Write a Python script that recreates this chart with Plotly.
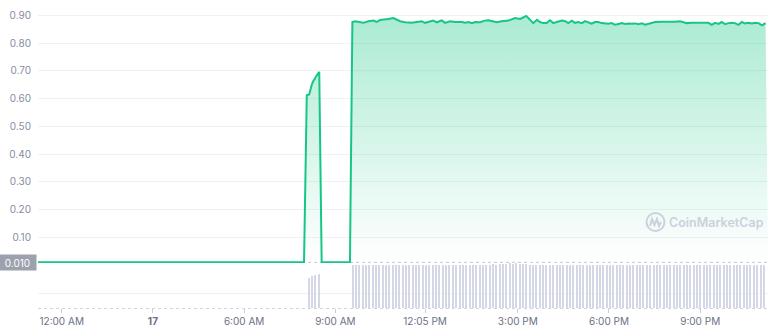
import plotly.graph_objects as go

# ---------------- data ----------------
# time in hours since the "12:00 AM" tick
price_hours = [-0.78, 7.97, 8.06, 8.14, 8.22, 8.26, 8.39, 8.47, 8.55, 9.48,
               9.56, 9.65, 9.92, 10.09, 10.25, 10.36, 10.47, 10.58, 10.74, 10.91,
               11.02, 11.13, 11.29, 11.51, 11.68, 11.84, 11.95, 12.12, 12.22, 12.34,
               12.5, 12.61, 12.77, 12.94, 13.16, 13.27, 13.38, 13.49, 13.6, 13.76,
               13.92, 14.03, 14.14, 14.31, 14.47, 14.69, 14.91, 15.08, 15.28, 15.41,
               15.51, 15.63, 15.73, 15.84, 15.95, 16.06, 16.17, 16.28, 16.45, 16.56,
               16.66, 16.78, 16.88, 16.99, 17.11, 17.21, 17.32, 17.43, 17.54, 17.65,
               17.76, 17.87, 17.98, 18.09, 18.2, 18.31, 18.42, 18.53, 18.64, 18.75,
               18.86, 18.97, 19.08, 19.19, 19.3, 19.41, 19.52, 19.74, 19.95, 20.17,
               20.34, 20.45, 20.56, 20.72, 20.94, 21.27, 21.38, 21.49, 21.6, 21.71,
               21.82, 21.93, 22.04, 22.14, 22.26, 22.37, 22.47, 22.58, 22.7, 22.81,
               22.92, 23.03, 23.15]
price_values = [0.010, 0.010, 0.612, 0.615, 0.648, 0.660, 0.684, 0.696, 0.010, 0.010,
                0.876, 0.879, 0.873, 0.879, 0.881, 0.876, 0.883, 0.884, 0.887, 0.890,
                0.884, 0.879, 0.875, 0.873, 0.876, 0.879, 0.873, 0.879, 0.881, 0.875,
                0.882, 0.873, 0.879, 0.876, 0.876, 0.873, 0.876, 0.872, 0.876, 0.875,
                0.881, 0.882, 0.879, 0.875, 0.879, 0.881, 0.890, 0.887, 0.898, 0.884,
                0.872, 0.884, 0.876, 0.872, 0.872, 0.882, 0.872, 0.876, 0.881, 0.879,
                0.872, 0.881, 0.873, 0.876, 0.872, 0.879, 0.873, 0.870, 0.876, 0.876,
                0.872, 0.871, 0.870, 0.872, 0.866, 0.869, 0.872, 0.869, 0.871, 0.870,
                0.871, 0.868, 0.871, 0.866, 0.870, 0.872, 0.876, 0.877, 0.876, 0.877,
                0.879, 0.875, 0.872, 0.873, 0.873, 0.873, 0.866, 0.873, 0.869, 0.876,
                0.868, 0.872, 0.873, 0.872, 0.866, 0.876, 0.871, 0.873, 0.871, 0.873,
                0.872, 0.864, 0.872]
open_price = 0.010

# volume (relative to panel height)
vol_spike_hours = [8.13, 8.23, 8.33, 8.47]
vol_spike = [0.67, 0.71, 0.74, 0.76]
vol_post_start = 9.57
vol_post_step = 0.11
vol_post = [0.95, 0.96, 0.96, 0.95, 0.96, 0.95, 0.96, 0.96, 0.95, 0.96,
            0.96, 0.95, 0.96, 0.95, 0.95, 0.96, 0.95, 0.96, 0.95, 0.95,
            0.95, 0.96, 0.95, 0.95, 0.96, 0.95, 0.95, 0.95, 0.96, 0.95,
            0.95, 0.96, 0.95, 0.95, 0.95, 0.96, 0.95, 0.95, 0.96, 0.96,
            0.96, 0.96, 0.97, 0.96, 0.97, 0.97, 0.98, 0.99, 0.98, 0.99,
            0.98, 0.97, 0.97, 0.96, 0.96, 0.96, 0.95, 0.96, 0.95, 0.95,
            0.96, 0.95, 0.95, 0.96, 0.95, 0.95, 0.95, 0.96, 0.95, 0.95,
            0.95, 0.95, 0.96, 0.95, 0.95, 0.95, 0.96, 0.95, 0.96, 0.95,
            0.95, 0.95, 0.95, 0.96, 0.95, 0.95, 0.95, 0.95, 0.96, 0.95,
            0.95, 0.95, 0.96, 0.95, 0.95, 0.95, 0.95, 0.96, 0.95, 0.95,
            0.95, 0.96, 0.95, 0.95, 0.95, 0.95, 0.95, 0.96, 0.95, 0.95,
            0.95, 0.95, 0.95, 0.96, 0.95, 0.95, 0.95, 0.95, 0.95, 0.95,
            0.95, 0.95, 0.95, 0.95]
vol_post_hours = [round(vol_post_start + vol_post_step * i, 3) for i in range(len(vol_post))]

x_tick_vals = [0, 3, 6, 9, 11.95, 15, 18, 21]
x_tick_text = ["12:00 AM", "<b>17</b>", "6:00 AM", "9:00 AM", "12:05 PM", "3:00 PM", "6:00 PM", "9:00 PM"]
y_tick_vals = [0.1, 0.2, 0.3, 0.4, 0.5, 0.6, 0.7, 0.8, 0.9]
y_tick_text = ["0.10", "0.20", "0.30", "0.40", "0.50", "0.60", "0.70", "0.80", "0.90"]

X_RANGE = [-0.78, 23.23]
GREEN = "#16c784"
GRID = "#eff1f4"
FONT = "Inter"

# ---------------- figure ----------------
W, H = 768, 331
ML, MR, MT, MB = 38, 0, 0, 23
PW, PH = W - ML - MR, H - MT - MB


def px(x):
    return (x - ML) / PW


def py(y):
    return (H - MB - y) / PH


fig = go.Figure()

# baseline at open price (for the fill)
fig.add_trace(go.Scatter(x=X_RANGE, y=[open_price, open_price], mode="lines",
                         line=dict(width=0, color="rgba(0,0,0,0)"),
                         hoverinfo="skip", showlegend=False, yaxis="y"))
fig.add_trace(go.Scatter(x=price_hours, y=price_values, mode="lines",
                         line=dict(color=GREEN, width=2),
                         fill="tonexty",
                         fillgradient=dict(type="vertical",
                                           colorscale=[[0, "rgba(22,199,132,0)"],
                                                       [1, "rgba(22,199,132,0.36)"]],
                                           start=open_price, stop=0.9),
                         showlegend=False, yaxis="y"))

fig.add_trace(go.Bar(x=vol_spike_hours, y=vol_spike, width=0.045,
                     marker=dict(color="#d3d7e6", line=dict(width=0)),
                     showlegend=False, yaxis="y2"))
fig.add_trace(go.Bar(x=vol_post_hours, y=vol_post, width=0.045,
                     marker=dict(color="#d3d7e6", line=dict(width=0)),
                     showlegend=False, yaxis="y2"))

price_bottom = py(265.1)
fig.update_layout(
    width=W, height=H,
    margin=dict(l=ML, r=MR, t=MT, b=MB),
    paper_bgcolor="white", plot_bgcolor="white",
    font=dict(family=FONT, size=10, color="#858ca2"),
    bargap=0,
    xaxis=dict(range=X_RANGE, tickvals=x_tick_vals, ticktext=x_tick_text,
               showgrid=False, zeroline=False, showline=False,
               ticks="outside", ticklen=4, tickcolor="#c9ccd6", tickwidth=1,
               tickfont=dict(size=10, color="#6b7185", family=FONT),
               anchor="y2"),
    yaxis=dict(domain=[price_bottom, 1], range=[0, 265.1 / 277.5],
               tickvals=y_tick_vals, ticktext=y_tick_text,
               showgrid=True, gridcolor=GRID, gridwidth=1,
               zeroline=False, showline=False, ticks="",
               ticklabelstandoff=6,
               tickfont=dict(size=10, color="#858ca2", family=FONT)),
    yaxis2=dict(domain=[0, py(263)], range=[0, 1],
                tickvals=[0.333], showticklabels=False,
                showgrid=True, gridcolor=GRID, zeroline=False, showline=False, ticks=""),
)

# dotted line at open price
fig.add_shape(type="line", xref="paper", yref="y", x0=0, x1=1, y0=open_price, y1=open_price,
              line=dict(color="#c3c7d2", width=1, dash="dot"), layer="below")
# dotted bottom axis
fig.add_shape(type="line", xref="paper", yref="paper", x0=0, x1=1, y0=0, y1=0,
              line=dict(color="#c3c7d2", width=1.5, dash="dot"), layer="below")

# open price label box
fig.add_annotation(xref="paper", yref="y", x=0, y=open_price, xanchor="right", yanchor="middle",
                   xshift=-1, text="0.010", showarrow=False, width=33, height=11,
                   bgcolor="#9ca1ae", borderpad=2,
                   font=dict(size=10, color="white", family=FONT))

# watermark
WM = "#cdd1dc"
cx, cy, r = 655.5, 222, 9
fig.add_shape(type="circle", xref="paper", yref="paper",
              x0=px(cx - r), x1=px(cx + r), y0=py(cy + r), y1=py(cy - r),
              line=dict(color=WM, width=2))
path_pts = [(650, 226), (652, 219), (654.5, 225), (657, 219), (659, 226), (661, 222)]
path = "M " + " L ".join(f"{px(a):.5f},{py(b):.5f}" for a, b in path_pts)
fig.add_shape(type="path", xref="paper", yref="paper", path=path,
              line=dict(color=WM, width=2))
fig.add_annotation(xref="paper", yref="paper", x=px(716.5), y=py(222), xanchor="center", yanchor="middle",
                   text="CoinMarketCap", showarrow=False,
                   font=dict(size=12.5, color=WM, family=FONT, weight=600))

fig.write_html("out.html")
